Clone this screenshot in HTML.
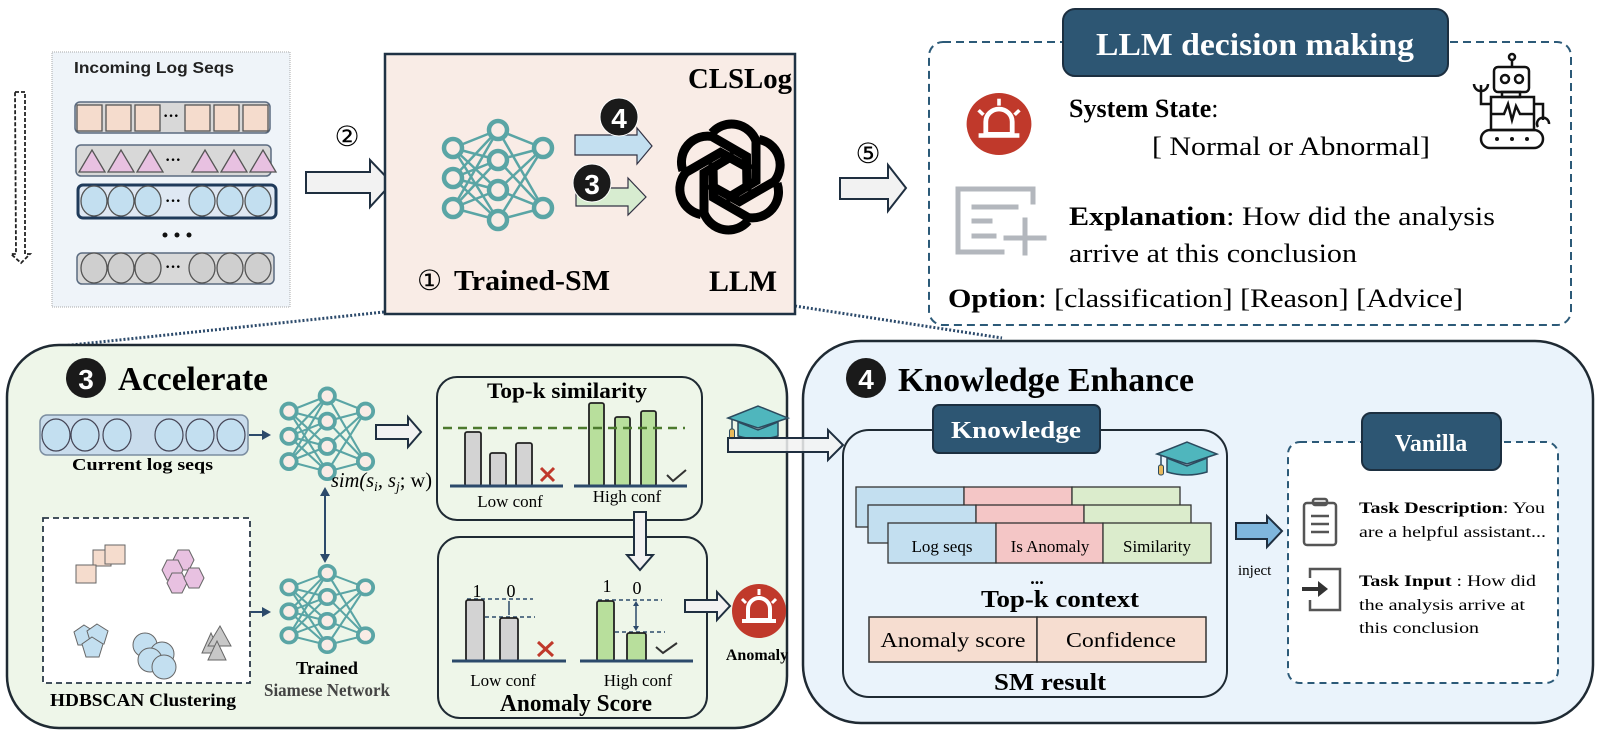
<!DOCTYPE html>
<html><head><meta charset="utf-8"><style>
html,body{margin:0;padding:0;background:#fff;}
svg{display:block;}
text{font-family:"Liberation Serif",serif;}
.b{font-weight:bold;}
</style></head><body>
<svg width="1597" height="744" viewBox="0 0 1597 744" xmlns="http://www.w3.org/2000/svg">
<defs>
<g id="nn" stroke="#5aa5a5" fill="none">
  <g stroke-width="2.5">
    <line x1="0" y1="18" x2="45" y2="0"/><line x1="0" y1="18" x2="45" y2="30"/><line x1="0" y1="18" x2="45" y2="60"/><line x1="0" y1="18" x2="45" y2="90"/>
    <line x1="0" y1="48" x2="45" y2="0"/><line x1="0" y1="48" x2="45" y2="30"/><line x1="0" y1="48" x2="45" y2="60"/><line x1="0" y1="48" x2="45" y2="90"/>
    <line x1="0" y1="78" x2="45" y2="0"/><line x1="0" y1="78" x2="45" y2="30"/><line x1="0" y1="78" x2="45" y2="60"/><line x1="0" y1="78" x2="45" y2="90"/>
    <line x1="45" y1="0" x2="90" y2="18"/><line x1="45" y1="30" x2="90" y2="18"/><line x1="45" y1="60" x2="90" y2="18"/><line x1="45" y1="90" x2="90" y2="18"/>
    <line x1="45" y1="0" x2="90" y2="78"/><line x1="45" y1="30" x2="90" y2="78"/><line x1="45" y1="60" x2="90" y2="78"/><line x1="45" y1="90" x2="90" y2="78"/>
  </g>
  <g stroke-width="4.5" fill="#f9ece6">
    <circle cx="0" cy="18" r="9"/><circle cx="0" cy="48" r="9"/><circle cx="0" cy="78" r="9"/>
    <circle cx="45" cy="0" r="9"/><circle cx="45" cy="30" r="9"/><circle cx="45" cy="60" r="9"/><circle cx="45" cy="90" r="9"/>
    <circle cx="90" cy="18" r="9"/><circle cx="90" cy="78" r="9"/>
  </g>
</g>
<g id="cap">
  <polygon points="0,14 30,2 60,14 30,24" fill="#4fb6bd" stroke="#2c4a5e" stroke-width="1.5"/>
  <path d="M10,18 L10,32 Q30,38 50,32 L50,18 L30,26 Z" fill="#4fb6bd" stroke="#2c4a5e" stroke-width="1.5"/>
  <line x1="4" y1="15" x2="4" y2="26" stroke="#2c4a5e" stroke-width="1.5"/>
  <rect x="1.5" y="25" width="5" height="10" rx="2" fill="#e9b95a" stroke="#2c4a5e" stroke-width="1"/>
</g>
<g id="alarm">
  <ellipse cx="0" cy="0" rx="27" ry="27" fill="#c0392b"/>
  <path d="M-11,9 L-11,-2 A11,11 0 0 1 11,-2 L11,9 Z" fill="none" stroke="#fff" stroke-width="4"/>
  <line x1="-17" y1="10" x2="17" y2="10" stroke="#fff" stroke-width="4"/>
  <line x1="0" y1="-22" x2="0" y2="-16" stroke="#fff" stroke-width="3"/>
  <line x1="-17" y1="-12" x2="-13" y2="-8" stroke="#fff" stroke-width="3"/>
  <line x1="17" y1="-12" x2="13" y2="-8" stroke="#fff" stroke-width="3"/>
</g>
</defs>

<line x1="384" y1="312" x2="62" y2="346" stroke="#2c4a6b" stroke-width="3" stroke-dasharray="2,2"/>
<line x1="795" y1="306" x2="1002" y2="338" stroke="#2c4a6b" stroke-width="3" stroke-dasharray="2,2"/>

<rect x="52" y="52" width="238" height="255" fill="#eff4f9" stroke="#aaa" stroke-width="1" stroke-dasharray="1,1"/>
<text x="74" y="73" style="font-family:'Liberation Sans',sans-serif" font-weight="bold" font-size="16" fill="#222" textLength="160" lengthAdjust="spacingAndGlyphs">Incoming Log Seqs</text>
<rect x="75" y="102" width="195" height="31" rx="5" fill="#d8d8d8" stroke="#5b6b80" stroke-width="1.5"/>
<g fill="#f5dccd" stroke="#555" stroke-width="1.3">
<rect x="77" y="105" width="25" height="26"/><rect x="106" y="105" width="25" height="26"/><rect x="135" y="105" width="25" height="26"/>
<rect x="185" y="105" width="25" height="26"/><rect x="214" y="105" width="25" height="26"/><rect x="243" y="105" width="25" height="26"/></g>
<text x="163" y="121" font-size="16" font-weight="bold">···</text>
<rect x="76" y="145" width="195" height="31" rx="5" fill="#d8d8d8" stroke="#5b6b80" stroke-width="1.5"/>
<g fill="#e8c1e1" stroke="#555" stroke-width="1.3">
<polygon points="79,172 92,150 105,172"/><polygon points="108,172 121,150 134,172"/><polygon points="137,172 150,150 163,172"/>
<polygon points="192,172 205,150 218,172"/><polygon points="221,172 234,150 247,172"/><polygon points="250,172 263,150 276,172"/></g>
<text x="165" y="165" font-size="16" font-weight="bold">···</text>
<rect x="78" y="185" width="198" height="33" rx="5" fill="#dfe8f3" stroke="#1f3a5a" stroke-width="3"/>
<g fill="#c3dff0" stroke="#555" stroke-width="1.3">
<ellipse cx="94" cy="201" rx="13" ry="15"/><ellipse cx="121" cy="201" rx="13" ry="15"/><ellipse cx="148" cy="201" rx="13" ry="15"/>
<ellipse cx="202" cy="201" rx="13" ry="15"/><ellipse cx="230" cy="201" rx="13" ry="15"/><ellipse cx="258" cy="201" rx="13" ry="15"/></g>
<text x="165" y="206" font-size="16" font-weight="bold">···</text>
<circle cx="165" cy="235" r="2.5" fill="#111"/><circle cx="177" cy="235" r="2.5" fill="#111"/><circle cx="189" cy="235" r="2.5" fill="#111"/>
<rect x="77" y="253" width="197" height="31" rx="5" fill="#d8d8d8" stroke="#5b6b80" stroke-width="1.5"/>
<g fill="#cfcfcf" stroke="#555" stroke-width="1.3">
<ellipse cx="94" cy="268" rx="13" ry="15"/><ellipse cx="121" cy="268" rx="13" ry="15"/><ellipse cx="148" cy="268" rx="13" ry="15"/>
<ellipse cx="202" cy="268" rx="13" ry="15"/><ellipse cx="230" cy="268" rx="13" ry="15"/><ellipse cx="258" cy="268" rx="13" ry="15"/></g>
<text x="165" y="272" font-size="16" font-weight="bold">···</text>
<path d="M15,92 L25,92 L25,254 L30,254 L21,263 L11,254 L16,254 Z" fill="none" stroke="#222" stroke-width="1.8" stroke-dasharray="4,2"/>

<text x="347" y="146" font-size="28" text-anchor="middle">②</text>
<path d="M306,172 L370,172 L370,160 L392,183 L370,207 L370,193 L306,193 Z" fill="#f2f2f2" stroke="#1f2f40" stroke-width="2"/>

<rect x="385" y="54" width="410" height="260" fill="#f9ece6" stroke="#1f3244" stroke-width="2.5"/>
<text x="792" y="88" font-size="29" class="b" text-anchor="end" textLength="104" lengthAdjust="spacingAndGlyphs">CLSLog</text>
<use href="#nn" x="453" y="130"/>
<path d="M575,135 L637,135 L637,128 L652,146 L637,164 L637,155 L575,155 Z" fill="#c3dff0" stroke="#334" stroke-width="1.2"/>
<circle cx="619" cy="117" r="19" fill="#1a1a1a" stroke="#fff" stroke-width="1"/>
<text x="619" y="128" style="font-family:'Liberation Sans',sans-serif" font-size="28" font-weight="bold" fill="#fff" text-anchor="middle">4</text>
<path d="M576,188 L628,188 L628,178 L646,197 L628,215 L628,206 L576,206 Z" fill="#d7ecd0" stroke="#334" stroke-width="1.2"/>
<circle cx="592" cy="183" r="19" fill="#1a1a1a" stroke="#fff" stroke-width="1"/>
<text x="592" y="194" style="font-family:'Liberation Sans',sans-serif" font-size="28" font-weight="bold" fill="#fff" text-anchor="middle">3</text>
<g transform="translate(730,177)" fill="none" stroke="#000" stroke-width="9">
  <g><path d="M-18,-44 A26,26 0 0 1 26,-36 L26,4 L-4,22"/></g>
  <g transform="rotate(60)"><path d="M-18,-44 A26,26 0 0 1 26,-36 L26,4 L-4,22"/></g>
  <g transform="rotate(120)"><path d="M-18,-44 A26,26 0 0 1 26,-36 L26,4 L-4,22"/></g>
  <g transform="rotate(180)"><path d="M-18,-44 A26,26 0 0 1 26,-36 L26,4 L-4,22"/></g>
  <g transform="rotate(240)"><path d="M-18,-44 A26,26 0 0 1 26,-36 L26,4 L-4,22"/></g>
  <g transform="rotate(300)"><path d="M-18,-44 A26,26 0 0 1 26,-36 L26,4 L-4,22"/></g>
</g>
<text x="417" y="290" font-size="28">①</text>
<text x="454" y="290" font-size="28" class="b" textLength="156" lengthAdjust="spacingAndGlyphs">Trained-SM</text>
<text x="709" y="291" font-size="30" class="b" textLength="68" lengthAdjust="spacingAndGlyphs">LLM</text>

<text x="868" y="163" font-size="28" text-anchor="middle">⑤</text>
<path d="M840,178 L888,178 L888,165 L906,188 L888,211 L888,199 L840,199 Z" fill="#f2f2f2" stroke="#1f2f40" stroke-width="2"/>

<rect x="929" y="42" width="642" height="283" rx="14" fill="#fff" stroke="#2c5a78" stroke-width="2" stroke-dasharray="8,5"/>
<rect x="1063" y="9" width="385" height="67" rx="12" fill="#2d5673" stroke="#1c2f40" stroke-width="2"/>
<text x="1255" y="55" font-size="32" class="b" fill="#fff" text-anchor="middle" textLength="318" lengthAdjust="spacingAndGlyphs">LLM decision making</text>
<g transform="translate(999,124) scale(1.2,1.15)"><use href="#alarm"/></g>
<text x="1069" y="117" font-size="26"><tspan class="b">System State</tspan>:</text>
<text x="1152" y="155" font-size="26" textLength="278" lengthAdjust="spacingAndGlyphs">[ Normal or Abnormal]</text>
<g fill="none" stroke="#111" stroke-width="2.5">
  <circle cx="1512" cy="57" r="3"/><line x1="1512" y1="60" x2="1512" y2="67"/>
  <rect x="1494" y="67" width="35" height="25" rx="4"/>
  <circle cx="1505" cy="79" r="4"/><circle cx="1519" cy="79" r="4"/>
  <rect x="1502" y="92" width="18" height="5"/>
  <rect x="1491" y="97" width="43" height="33"/>
  <polyline points="1491,114 1504,114 1508,104 1512,120 1516,106 1520,114 1534,114"/>
  <polyline points="1491,104 1481,104 1481,85"/><path d="M1474,84 A7,7 0 0 0 1488,84"/>
  <polyline points="1534,104 1543,104 1543,120"/><path d="M1538,127 A6,6 0 1 1 1549,124"/>
  <rect x="1481" y="130" width="62" height="18" rx="9"/>
</g>
<circle cx="1497" cy="139" r="2" fill="#111"/><circle cx="1512" cy="139" r="2" fill="#111"/><circle cx="1527" cy="139" r="2" fill="#111"/>
<g fill="none" stroke="#b3b7bd" stroke-width="5" stroke-linecap="square">
  <polyline points="1033,202 1033,189 958,189 958,252 1002,252"/>
  <line x1="974" y1="207" x2="1016" y2="207"/><line x1="974" y1="221" x2="990" y2="221"/><line x1="974" y1="236" x2="994" y2="236"/>
  <line x1="1006" y1="238" x2="1044" y2="238"/><line x1="1025" y1="220" x2="1025" y2="253"/>
</g>
<text x="1069" y="225" font-size="26" textLength="426" lengthAdjust="spacingAndGlyphs"><tspan class="b">Explanation</tspan>: How did the analysis</text>
<text x="1069" y="262" font-size="26" textLength="288" lengthAdjust="spacingAndGlyphs">arrive at this conclusion</text>
<text x="948" y="307" font-size="26" textLength="515" lengthAdjust="spacingAndGlyphs"><tspan class="b">Option</tspan>: [classification] [Reason] [Advice]</text>

<rect x="7" y="345" width="780" height="383" rx="52" fill="#eef6e9" stroke="#1f2a33" stroke-width="2.5"/>
<circle cx="86" cy="378" r="20" fill="#1a1a1a"/>
<text x="86" y="389" style="font-family:'Liberation Sans',sans-serif" font-size="28" font-weight="bold" fill="#fff" text-anchor="middle">3</text>
<text x="118" y="390" font-size="34" class="b" textLength="150" lengthAdjust="spacingAndGlyphs">Accelerate</text>
<rect x="40" y="415" width="208" height="40" rx="7" fill="#c9dcec" stroke="#7b8da0" stroke-width="1.5"/>
<g fill="#c3dff0" stroke="#445" stroke-width="1.2">
<ellipse cx="56" cy="435" rx="14" ry="16"/><ellipse cx="85" cy="435" rx="14" ry="16"/><ellipse cx="117" cy="435" rx="14" ry="16"/>
<ellipse cx="169" cy="435" rx="14" ry="16"/><ellipse cx="200" cy="435" rx="14" ry="16"/><ellipse cx="231" cy="435" rx="14" ry="16"/></g>
<text x="72" y="470" font-size="17" class="b" textLength="141" lengthAdjust="spacingAndGlyphs">Current log seqs</text>
<line x1="249" y1="435" x2="264" y2="435" stroke="#2c4a6b" stroke-width="2"/><polygon points="262,430 271,435 262,440" fill="#2c4a6b"/>
<g transform="translate(289,396) scale(0.85,0.84)"><use href="#nn"/></g>
<path d="M376,425 L408,425 L408,417 L421,432 L408,447 L408,439 L376,439 Z" fill="#f2f2f2" stroke="#1f2f40" stroke-width="2"/>
<text x="331" y="487" font-size="21" font-style="italic" textLength="101" lengthAdjust="spacingAndGlyphs">sim(s<tspan font-size="14" dy="4">i</tspan><tspan dy="-4">, s</tspan><tspan font-size="14" dy="4">j</tspan><tspan dy="-4" font-style="normal">; w)</tspan></text>
<line x1="325" y1="494" x2="325" y2="556" stroke="#2c4a6b" stroke-width="2"/>
<polygon points="320,496 325,487 330,496" fill="#2c4a6b"/><polygon points="320,554 325,563 330,554" fill="#2c4a6b"/>
<rect x="43" y="518" width="207" height="165" fill="#fff" stroke="#2b3a48" stroke-width="1.8" stroke-dasharray="6,4"/>
<g fill="#f5dccd" stroke="#666" stroke-width="1">
<rect x="93" y="550" width="18" height="16"/><rect x="76" y="565" width="20" height="18"/><rect x="105" y="545" width="20" height="19"/></g>
<g fill="#e8c1e1" stroke="#666" stroke-width="1">
<polygon points="178,550 189,550 194,560 189,570 178,570 173,560"/><polygon points="167,560 178,560 183,570 178,580 167,580 162,570"/>
<polygon points="172,573 182,573 187,583 182,593 172,593 167,583"/><polygon points="189,568 199,568 204,578 199,588 189,588 184,578"/></g>
<g fill="#c3dff0" stroke="#666" stroke-width="1">
<polygon points="84,625 95,632 91,645 78,645 74,632"/><polygon points="97,624 108,631 104,644 91,644 87,631"/><polygon points="92,637 103,644 99,657 86,657 82,644"/></g>
<g fill="#c3dff0" stroke="#666" stroke-width="1">
<circle cx="145" cy="645" r="12"/><circle cx="162" cy="654" r="12"/><circle cx="150" cy="660" r="12"/><circle cx="164" cy="667" r="12"/></g>
<g fill="#c8c8c8" stroke="#666" stroke-width="1">
<polygon points="202,653 211,633 220,653"/><polygon points="208,646 220,626 231,646"/><polygon points="208,660 217,641 226,660"/></g>
<text x="50" y="706" font-size="18" class="b" textLength="186" lengthAdjust="spacingAndGlyphs">HDBSCAN Clustering</text>
<line x1="251" y1="612" x2="264" y2="612" stroke="#2c4a6b" stroke-width="2"/><polygon points="262,607 271,612 262,617" fill="#2c4a6b"/>
<g transform="translate(289,573) scale(0.85,0.8)"><use href="#nn"/></g>
<text x="327" y="674" font-size="18" class="b" text-anchor="middle" textLength="62" lengthAdjust="spacingAndGlyphs">Trained</text>
<text x="327" y="696" font-size="18" class="b" fill="#444" text-anchor="middle" textLength="126" lengthAdjust="spacingAndGlyphs">Siamese Network</text>
<rect x="437" y="377" width="265" height="143" rx="20" fill="#eef6e9" stroke="#1f2a33" stroke-width="2"/>
<text x="567" y="398" font-size="22" class="b" text-anchor="middle" textLength="160" lengthAdjust="spacingAndGlyphs">Top-k similarity</text>
<g fill="#d3d3d3" stroke="#222" stroke-width="1.8">
<rect x="465" y="432" width="16" height="54" rx="2"/><rect x="490" y="453" width="16" height="33" rx="2"/><rect x="516" y="443" width="16" height="43" rx="2"/></g>
<g fill="#b8df9c" stroke="#222" stroke-width="1.8">
<rect x="589" y="403" width="15" height="83" rx="2"/><rect x="615" y="417" width="15" height="69" rx="2"/><rect x="641" y="411" width="15" height="75" rx="2"/></g>
<line x1="443" y1="428" x2="685" y2="428" stroke="#4c7a2e" stroke-width="2.5" stroke-dasharray="9,6"/>
<line x1="450" y1="486" x2="563" y2="486" stroke="#2c4a6b" stroke-width="3"/>
<line x1="574" y1="486" x2="687" y2="486" stroke="#2c4a6b" stroke-width="3"/>
<path d="M541,468 L554,481 M554,468 L541,481" stroke="#c0392b" stroke-width="3"/>
<polyline points="667,475 673,481 686,470" fill="none" stroke="#333" stroke-width="2"/>
<text x="510" y="507" font-size="17" text-anchor="middle">Low conf</text>
<text x="627" y="502" font-size="17" text-anchor="middle">High conf</text>
<rect x="438" y="537" width="269" height="181" rx="22" fill="#eef6e9" stroke="#1f2a33" stroke-width="2"/>
<path d="M634,512 L646,512 L646,555 L653,555 L640,570 L627,555 L634,555 Z" fill="#f2f2f2" stroke="#1f2f40" stroke-width="2"/>
<line x1="467" y1="599" x2="533" y2="599" stroke="#2c4a6b" stroke-width="1.5" stroke-dasharray="4,3"/>
<line x1="485" y1="617" x2="535" y2="617" stroke="#2c4a6b" stroke-width="1.5" stroke-dasharray="4,3"/>
<line x1="509" y1="601" x2="509" y2="615" stroke="#2c4a6b" stroke-width="1.5"/>
<g fill="#d3d3d3" stroke="#222" stroke-width="1.8"><rect x="466" y="600" width="18" height="61" rx="2"/><rect x="500" y="618" width="18" height="43" rx="2"/></g>
<line x1="598" y1="600" x2="662" y2="600" stroke="#2c4a6b" stroke-width="1.5" stroke-dasharray="4,3"/>
<line x1="615" y1="632" x2="665" y2="632" stroke="#2c4a6b" stroke-width="1.5" stroke-dasharray="4,3"/>
<line x1="636" y1="603" x2="636" y2="629" stroke="#2c4a6b" stroke-width="1.5"/>
<polygon points="633,606 636,601 639,606" fill="#2c4a6b"/><polygon points="633,626 636,631 639,626" fill="#2c4a6b"/>
<g fill="#b8df9c" stroke="#222" stroke-width="1.8"><rect x="597" y="601" width="17" height="60" rx="2"/><rect x="627" y="633" width="19" height="28" rx="2"/></g>
<line x1="452" y1="661" x2="566" y2="661" stroke="#2c4a6b" stroke-width="3"/>
<line x1="580" y1="661" x2="693" y2="661" stroke="#2c4a6b" stroke-width="3"/>
<text x="477" y="597" font-size="18" text-anchor="middle">1</text><text x="511" y="597" font-size="18" text-anchor="middle">0</text>
<text x="607" y="592" font-size="18" text-anchor="middle">1</text><text x="637" y="594" font-size="18" text-anchor="middle">0</text>
<path d="M538,642 L553,656 M553,642 L538,656" stroke="#c0392b" stroke-width="3"/>
<polyline points="656,647 663,653 677,643" fill="none" stroke="#333" stroke-width="2"/>
<text x="503" y="686" font-size="17" text-anchor="middle">Low conf</text>
<text x="638" y="686" font-size="17" text-anchor="middle">High conf</text>
<text x="576" y="711" font-size="24" class="b" text-anchor="middle" textLength="152" lengthAdjust="spacingAndGlyphs">Anomaly Score</text>
<path d="M685,600 L717,600 L717,592 L730,606 L717,620 L717,612 L685,612 Z" fill="#f2f2f2" stroke="#1f2f40" stroke-width="2"/>
<g transform="translate(759,611)"><use href="#alarm"/></g>
<text x="757" y="660" font-size="16" class="b" text-anchor="middle">Anomaly</text>

<rect x="803" y="341" width="790" height="382" rx="58" fill="#eaf3fb" stroke="#1f2a33" stroke-width="2.5"/>
<circle cx="866" cy="378" r="20" fill="#1a1a1a"/>
<text x="866" y="389" style="font-family:'Liberation Sans',sans-serif" font-size="28" font-weight="bold" fill="#fff" text-anchor="middle">4</text>
<text x="898" y="391" font-size="34" class="b" textLength="296" lengthAdjust="spacingAndGlyphs">Knowledge Enhance</text>
<g transform="translate(728,404)"><use href="#cap"/></g>
<path d="M728,438 L828,438 L828,430 L843,445 L828,460 L828,452 L728,452 Z" fill="#f2f2f2" fill-opacity="0.85" stroke="#1f2f40" stroke-width="2"/>
<rect x="843" y="430" width="384" height="267" rx="26" fill="#eaf3fb" stroke="#1f2a33" stroke-width="2"/>
<rect x="933" y="405" width="167" height="48" rx="6" fill="#2d5673" stroke="#1c2f40" stroke-width="2"/>
<text x="1016" y="438" font-size="24" class="b" fill="#fff" text-anchor="middle" textLength="130" lengthAdjust="spacingAndGlyphs">Knowledge</text>
<g transform="translate(1157,440)"><use href="#cap"/></g>
<g stroke="#333" stroke-width="1.3">
<rect x="856" y="487" width="108" height="40" fill="#c3dff0"/><rect x="964" y="487" width="108" height="40" fill="#f4c6c6"/><rect x="1072" y="487" width="108" height="40" fill="#dbeccc"/>
<rect x="868" y="505" width="108" height="38" fill="#c3dff0"/><rect x="976" y="505" width="108" height="38" fill="#f4c6c6"/><rect x="1084" y="505" width="107" height="38" fill="#dbeccc"/>
<rect x="888" y="523" width="108" height="40" fill="#c3dff0"/><rect x="996" y="523" width="107" height="40" fill="#f4c6c6"/><rect x="1103" y="523" width="108" height="40" fill="#dbeccc"/>
</g>
<text x="942" y="552" font-size="17" text-anchor="middle">Log seqs</text>
<text x="1050" y="552" font-size="17" text-anchor="middle">Is Anomaly</text>
<text x="1157" y="552" font-size="17" text-anchor="middle">Similarity</text>
<text x="1037" y="584" font-size="18" class="b" text-anchor="middle">...</text>
<text x="1060" y="607" font-size="24" class="b" text-anchor="middle" textLength="158" lengthAdjust="spacingAndGlyphs">Top-k context</text>
<rect x="869" y="617" width="168" height="45" fill="#f6ddd0" stroke="#333" stroke-width="1.5"/>
<rect x="1037" y="617" width="169" height="45" fill="#f6ddd0" stroke="#333" stroke-width="1.5"/>
<text x="953" y="647" font-size="21" text-anchor="middle" textLength="145" lengthAdjust="spacingAndGlyphs">Anomaly score</text>
<text x="1121" y="647" font-size="21" text-anchor="middle" textLength="110" lengthAdjust="spacingAndGlyphs">Confidence</text>
<text x="1050" y="690" font-size="24" class="b" text-anchor="middle" textLength="112" lengthAdjust="spacingAndGlyphs">SM result</text>
<path d="M1236,523 L1267,523 L1267,516 L1282,531 L1267,547 L1267,539 L1236,539 Z" fill="#7fb6dd" stroke="#1f2f40" stroke-width="2"/>
<text x="1238" y="575" font-size="15">inject</text>
<rect x="1288" y="442" width="270" height="241" rx="12" fill="#fff" stroke="#2c5a78" stroke-width="2" stroke-dasharray="7,5"/>
<rect x="1362" y="413" width="139" height="57" rx="9" fill="#2d5673" stroke="#1c2f40" stroke-width="2"/>
<text x="1431" y="451" font-size="24" class="b" fill="#fff" text-anchor="middle">Vanilla</text>
<g fill="none" stroke="#555" stroke-width="2.5">
<rect x="1304" y="503" width="32" height="42" rx="3"/><rect x="1313" y="499" width="14" height="6" rx="2"/>
<line x1="1311" y1="516" x2="1329" y2="516"/><line x1="1311" y1="524" x2="1329" y2="524"/><line x1="1311" y1="532" x2="1329" y2="532"/>
<path d="M1310,578 L1310,569 L1340,569 L1340,610 L1310,610 L1310,600"/>
</g>
<line x1="1302" y1="589" x2="1320" y2="589" stroke="#333" stroke-width="4"/><polygon points="1318,581 1328,589 1318,597" fill="#333"/>
<g font-size="16">
<text x="1359" y="513" textLength="186" lengthAdjust="spacingAndGlyphs"><tspan class="b">Task Description</tspan>: You</text>
<text x="1359" y="537" textLength="187" lengthAdjust="spacingAndGlyphs">are a helpful assistant...</text>
<text x="1359" y="586" textLength="177" lengthAdjust="spacingAndGlyphs"><tspan class="b">Task Input</tspan> : How did</text>
<text x="1359" y="610" textLength="166" lengthAdjust="spacingAndGlyphs">the analysis arrive at</text>
<text x="1359" y="633" textLength="120" lengthAdjust="spacingAndGlyphs">this conclusion</text>
</g>
</svg>
</body></html>
